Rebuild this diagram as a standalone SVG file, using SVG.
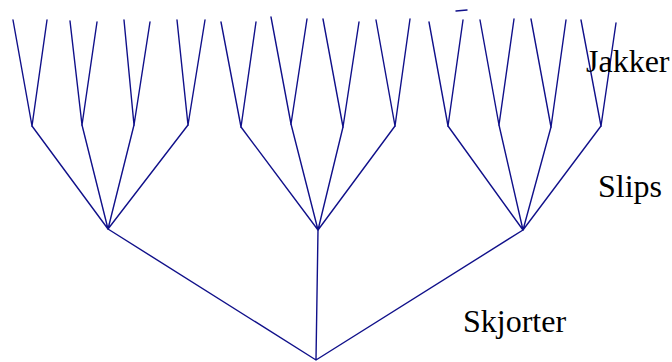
<svg xmlns="http://www.w3.org/2000/svg" width="672" height="362" viewBox="0 0 672 362">
<style>
.e{stroke:#10108a;stroke-width:1.4;fill:none;stroke-linecap:round}
.t{font-family:"Liberation Serif","Times New Roman",serif;font-size:32px;fill:#000}
</style>
<rect width="672" height="362" fill="#fff"/>
<g id="connectors" class="e">
<path d="M316,360L108,229M316,360L318,230M316,360L523,230"/>
<path d="M108,229L32,126M108,229L82,125M108,229L134,125M108,229L188,125"/>
<path d="M318,230L241,127M318,230L291,124M318,230L343,127M318,230L395,126"/>
<path d="M523,230L448,126M523,230L499,125M523,230L551,127M523,230L601,126"/>
<path d="M32,126L13,20M32,126L47,20M82,125L70,21M82,125L97,22M134,125L124,20M134,125L150,22M188,125L177,20M188,125L205,20"/>
<path d="M241,127L221,22M241,127L256,22M291,124L271,17M291,124L307,19M343,127L323,19M343,127L359,22M395,126L376,20M395,126L410,19"/>
<path d="M448,126L429,22M448,126L463,20M499,125L480,20M499,125L514,19M551,127L531,19M551,127L566,20M601,126L581,20M601,126L616,23"/>
<path d="M456,11L467,10"/>
</g>
<g id="label-jakker"><text class="t" x="586" y="72">Jakker</text></g>
<g id="label-slips"><text class="t" x="598" y="197">Slips</text></g>
<g id="label-skjorter"><text class="t" x="463" y="332">Skjorter</text></g>
</svg>
